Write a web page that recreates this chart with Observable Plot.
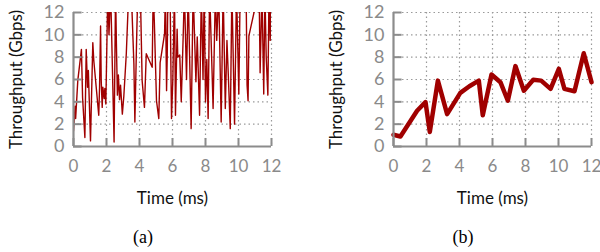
<!DOCTYPE html>
<html><head><meta charset="utf-8">
<script src="https://cdn.jsdelivr.net/npm/d3@7"></script>
<script src="https://cdn.jsdelivr.net/npm/@observablehq/plot@0.6"></script>
<style>
body{margin:0;background:#fff;}
#wrap{position:relative;width:600px;height:252px;overflow:hidden;}
.panel{position:absolute;top:0;}
.cap{position:absolute;top:228px;line-height:18px;font-family:"Liberation Serif","DejaVu Serif",serif;font-size:18px;color:#000;transform:translateX(-50%);}
</style></head><body>
<div id="wrap"></div>
<script>
// Panel (a): raw throughput samples (values above 12 are clipped at the top)
const timeA = [0,0.1,0.13,0.26,0.48,0.55,0.69,0.77,0.85,0.9,1.03,1.17,1.23,1.53,1.58,1.64,1.68,1.74,1.78,1.86,1.9,1.96,
  2.08,2.15,2.25,2.46,2.55,2.6,2.66,2.72,2.79,2.85,2.96,3.05,3.2,3.35,3.5,3.66,3.72,3.83,3.9,4.05,4.16,4.3,4.41,4.77,4.83,4.9,
  5.03,5.17,5.25,5.52,5.57,5.64,5.68,5.72,5.85,5.94,6.02,6.12,6.18,6.28,6.32,6.44,6.53,6.65,6.72,6.85,6.95,7.13,7.25,7.35,7.42,7.5,
  7.64,7.75,7.85,7.92,8.0,8.08,8.16,8.25,8.4,8.46,8.6,8.68,8.8,8.95,9.07,9.2,9.3,9.38,9.5,9.6,9.76,9.88,10.02,10.1,10.46,10.52,
  10.58,10.63,10.97,11.25,11.31,11.36,11.42,11.53,11.6,11.68,11.78,11.85,11.92,12];
const tputA = [1.4,3.6,2.5,5.9,8.7,4.4,0.8,8.7,5.3,6.8,0.5,9.3,7.7,2.8,5.3,10.8,5.9,3.5,5.3,4.3,5.2,3.8,
  14,10,14,0.4,14,9.2,4.6,6.4,4.2,5.5,2.9,4.5,8.3,14,14,7.4,2.2,9.9,14,14,5.9,3.5,8.3,7.1,14,11.1,
  4.1,2.5,7.5,10.1,14,5.0,8.0,14,14,2.5,6.0,14,2.8,10.5,8.0,8.2,4.0,10.0,14,6.0,14,1.6,14,9.2,5.8,9.8,
  2.8,14,6.0,14,4.0,7.8,2.5,14,6.6,3.4,14,9.5,14,2.2,14,3.4,9.5,6.5,1.6,14,2.0,14,4.7,14,14,5.5,
  4.1,9.9,12.2,14,6.6,9.8,14,4.7,14,8.0,4.6,14,9.5,14];

// Panel (b): smoothed throughput
const timeB = [0,0.42,1.43,1.94,2.2,2.69,3.25,4.05,4.6,5.17,5.41,5.94,6.48,6.93,7.39,7.9,8.47,8.95,9.52,10.02,10.36,10.97,11.53,12.0];
const tputB = [1.05,0.9,3.2,3.97,1.3,5.9,2.9,4.8,5.4,5.9,2.8,6.45,5.76,4.1,7.2,5.0,5.97,5.9,5.16,6.95,5.16,4.95,8.35,5.76];

const xTicks = [0,2,4,6,8,10,12];
const yTicks = [0,2,4,6,8,10,12];
const xLabel = "Time (ms)";
const yLabel = "Throughput (Gbps)";
const captions = ["(a)", "(b)"];

const axisGray = "#8c8c8c";
const red = "#a00000";

function panel(times, vals, lineWidth, clipLine) {
  const data = times.map((t, i) => ({t, v: vals[i]}));
  return Plot.plot({
    width: 280, height: 215,
    marginLeft: 73, marginRight: 9, marginTop: 12, marginBottom: 69,
    style: {fontFamily: "Lato, 'Open Sans', sans-serif", fontSize: "17px", background: "white", overflow: "visible"},
    x: {domain: [0, 12]},
    y: {domain: [0, 12]},
    marks: [
      Plot.gridX(xTicks.filter(d => d > 0), {stroke: "#9a9a9a", strokeOpacity: 1, strokeDasharray: "1.5,3", strokeWidth: 1.2}),
      Plot.gridY(yTicks.filter(d => d > 0), {stroke: "#9a9a9a", strokeOpacity: 1, strokeDasharray: "1.5,3", strokeWidth: 1.2}),
      Plot.axisX(xTicks, {tickSize: 0, tickPadding: 13, label: null, fill: "#8a8a8a", fontSize: 17}),
      Plot.axisY(yTicks, {tickSize: 0, tickPadding: 9, label: null, fill: "#8a8a8a", fontSize: 18}),
      Plot.line(data, {x: "t", y: "v", stroke: red, strokeWidth: lineWidth, clip: clipLine, strokeLinejoin: "round"}),
      Plot.ruleY(yTicks, {x1: 0, x2: 0.52, stroke: axisGray, strokeWidth: 2}),
      Plot.ruleX(xTicks, {y1: 0, y2: 0.72, stroke: axisGray, strokeWidth: 2}),
      Plot.ruleX([0], {y1: 0, y2: 12, stroke: axisGray, strokeWidth: 2.2}),
      Plot.ruleY([0], {x1: 0, x2: 12, stroke: axisGray, strokeWidth: 2.2}),
      Plot.text([yLabel], {frameAnchor: "left", dx: -57, rotate: -90, textAnchor: "middle", fill: "#111", fontSize: 17}),
      Plot.text([xLabel], {frameAnchor: "bottom", dy: 57, textAnchor: "middle", fill: "#111", fontSize: 17})
    ]
  });
}

const wrap = document.getElementById("wrap");
const specs = [
  {times: timeA, vals: tputA, w: 1.4, clip: true, left: 0, capX: 143},
  {times: timeB, vals: tputB, w: 4.5, clip: false, left: 320, capX: 463}
];
specs.forEach((s, i) => {
  const div = document.createElement("div");
  div.className = "panel";
  div.style.left = s.left + "px";
  div.appendChild(panel(s.times, s.vals, s.w, s.clip));
  wrap.appendChild(div);
  const cap = document.createElement("div");
  cap.className = "cap";
  cap.style.left = s.capX + "px";
  cap.textContent = captions[i];
  wrap.appendChild(cap);
});
</script>
</body></html>
